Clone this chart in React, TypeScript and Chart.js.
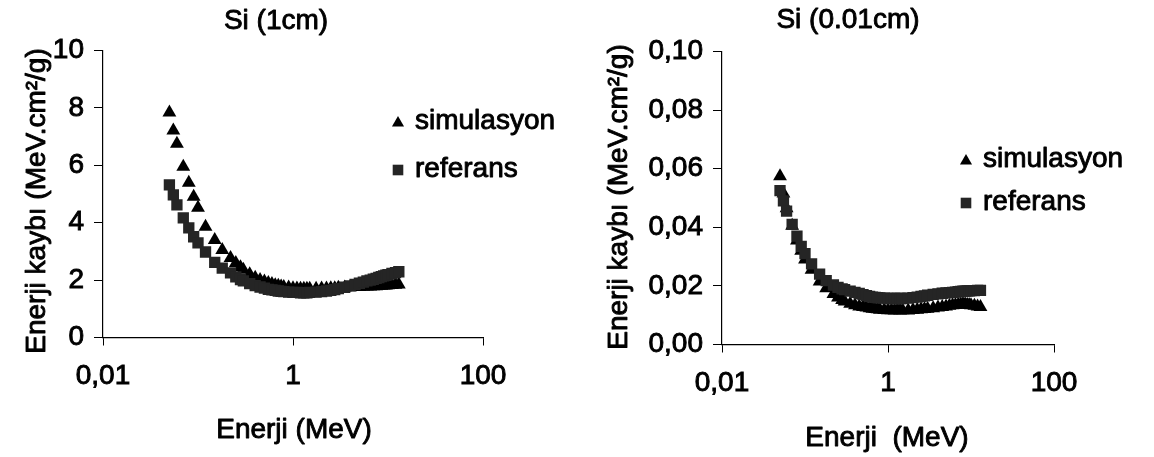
import React, { useEffect, useRef } from 'react';
import { Chart, registerables } from 'chart.js';

Chart.register(...registerables);

const FONT_FAMILY = '"Liberation Sans", Arial, Helvetica, sans-serif';

// Energies (MeV)
const energies = [
  0.05, 0.055, 0.06, 0.07, 0.08, 0.09, 0.1, 0.12, 0.15, 0.18,
  0.22, 0.25, 0.28, 0.3, 0.35, 0.4, 0.45, 0.5, 0.55, 0.6,
  0.65, 0.7, 0.75, 0.8, 0.9, 1.0, 1.1, 1.2, 1.3, 1.4,
  1.5, 1.75, 2.0, 2.25, 2.5, 2.75, 3.0, 3.5, 4.0, 4.5,
  5.0, 5.5, 6.0, 6.5, 7.0, 7.5, 8.0, 8.5, 9.0, 9.5,
  10, 11, 12, 13,
];

// Si (1cm)
const simThick = [
  7.84, 7.21, 6.75, 5.95, 5.39, 4.90, 4.52, 3.86, 3.40, 3.05,
  2.77, 2.60, 2.45, 2.36, 2.20, 2.08, 2.00, 1.95, 1.90, 1.86,
  1.82, 1.80, 1.78, 1.76, 1.74, 1.72, 1.71, 1.70, 1.70, 1.70,
  1.70, 1.70, 1.71, 1.71, 1.72, 1.72, 1.73, 1.74, 1.75, 1.76,
  1.76, 1.77, 1.78, 1.78, 1.79, 1.79, 1.80, 1.80, 1.81, 1.81,
  1.82, 1.83, 1.84, 1.85,
];
const refThick = [
  5.32, 4.97, 4.62, 4.17, 3.82, 3.51, 3.30, 2.98, 2.62, 2.42,
  2.25, 2.11, 2.02, 1.97, 1.88, 1.81, 1.76, 1.72, 1.68, 1.66,
  1.64, 1.62, 1.61, 1.60, 1.58, 1.57, 1.57, 1.56, 1.56, 1.56,
  1.57, 1.58, 1.60, 1.62, 1.64, 1.67, 1.70, 1.75, 1.80, 1.85,
  1.89, 1.93, 1.97, 2.00, 2.03, 2.06, 2.09, 2.12, 2.15, 2.17,
  2.19, 2.23, 2.26, 2.29,
];

// Si (0.01cm)
const simThin = [
  0.0574, 0.0515, 0.0465, 0.0405, 0.0355, 0.0320, 0.0290, 0.0255, 0.0215, 0.0192,
  0.0172, 0.0160, 0.0152, 0.0147, 0.0139, 0.0134, 0.0130, 0.0128, 0.0126, 0.0124,
  0.0122, 0.0121, 0.0120, 0.0119, 0.0118, 0.0117, 0.0117, 0.0116, 0.0118, 0.0116,
  0.0117, 0.0116, 0.0118, 0.0119, 0.0120, 0.0121, 0.0122, 0.0124, 0.0126, 0.0128,
  0.0130, 0.0132, 0.0134, 0.0135, 0.0136, 0.0137, 0.0138, 0.0137, 0.0136, 0.0135,
  0.0134, 0.0132, 0.0130, 0.0128,
];
const refThin = [
  0.0525, 0.0490, 0.0455, 0.0410, 0.0370, 0.0335, 0.0310, 0.0275, 0.0240, 0.0218,
  0.0203, 0.0195, 0.0190, 0.0187, 0.0182, 0.0178, 0.0174, 0.0170, 0.0167, 0.0164,
  0.0162, 0.0161, 0.0160, 0.0159, 0.0158, 0.0157, 0.0157, 0.0157, 0.0157, 0.0157,
  0.0157, 0.0158, 0.0160, 0.0162, 0.0164, 0.0166, 0.0168, 0.0171, 0.0173, 0.0175,
  0.0176, 0.0177, 0.0178, 0.0179, 0.0180, 0.0181, 0.0182, 0.0182, 0.0183, 0.0183,
  0.0184, 0.0184, 0.0185, 0.0185,
];

const seriesNames = ['simulasyon', 'referans'];
const xTickValues = [0.01, 1, 100];
const xTickLabels = ['0,01', '1', '100'];
const yTickValuesThick = [0, 2, 4, 6, 8, 10];
const yTickLabelsThick = ['0', '2', '4', '6', '8', '10'];
const yTickValuesThin = [0, 0.02, 0.04, 0.06, 0.08, 0.1];
const yTickLabelsThin = ['0,00', '0,02', '0,04', '0,06', '0,08', '0,10'];
const yAxisTitle = 'Enerji kaybı (MeV.cm²/g)';

const TRI_R = 8;
const RECT_R = 8;
const TEXT_STROKE = 0.9;

const figureText = {
  id: 'figureText',
  afterDraw(chart: any, _args: any, opts: any) {
    const ctx = chart.ctx;
    (opts.texts || []).forEach((t: any) => {
      ctx.save();
      ctx.font = `${t.size}px ${FONT_FAMILY}`;
      ctx.fillStyle = '#000';
      ctx.strokeStyle = '#000';
      ctx.lineWidth = TEXT_STROKE;
      ctx.lineJoin = 'round';
      ctx.textAlign = t.align || 'center';
      ctx.textBaseline = 'middle';
      ctx.translate(t.x, t.y);
      if (t.rotate) ctx.rotate(t.rotate);
      ctx.strokeText(t.text, 0, 0);
      ctx.fillText(t.text, 0, 0);
      ctx.restore();
    });
    (opts.markers || []).forEach((m: any) => {
      ctx.save();
      ctx.fillStyle = m.color;
      ctx.beginPath();
      const r = m.r;
      if (m.style === 'triangle') {
        ctx.moveTo(m.x, m.y - r);
        ctx.lineTo(m.x + 0.866 * r, m.y + 0.5 * r);
        ctx.lineTo(m.x - 0.866 * r, m.y + 0.5 * r);
        ctx.closePath();
      } else {
        const s = r * Math.SQRT1_2;
        ctx.rect(m.x - s, m.y - s, 2 * s, 2 * s);
      }
      ctx.fill();
      ctx.restore();
    });
  },
};

type PanelProps = {
  left: number;
  sim: number[];
  refv: number[];
  yMax: number;
  yTickValues: number[];
  yTickLabels: string[];
  padTop: number;
  padRight: number;
  yWidth: number;
  xHeight: number;
  texts: any[];
  markers: any[];
};

function Panel(p: PanelProps) {
  const canvasRef = useRef<HTMLCanvasElement | null>(null);
  useEffect(() => {
    if (!canvasRef.current) return;
    const tickFont = { family: FONT_FAMILY, size: 28 };
    const chart = new Chart(canvasRef.current, {
      type: 'scatter',
      data: {
        datasets: [
          {
            label: seriesNames[0],
            data: energies.map((e, i) => ({ x: e, y: p.sim[i] })),
            pointStyle: 'triangle',
            pointRadius: TRI_R,
            backgroundColor: '#000',
            borderColor: '#000',
            borderWidth: 0,
            order: 1,
          },
          {
            label: seriesNames[1],
            data: energies.map((e, i) => ({ x: e, y: p.refv[i] })),
            pointStyle: 'rect',
            pointRadius: RECT_R,
            backgroundColor: '#252525',
            borderColor: '#252525',
            borderWidth: 0,
            order: 0,
          },
        ],
      },
      options: {
        animation: false,
        responsive: true,
        maintainAspectRatio: false,
        events: [],
        layout: { padding: { top: p.padTop, right: p.padRight, bottom: 0, left: 0 } },
        plugins: {
          legend: { display: false },
          title: { display: false },
          tooltip: { enabled: false },
          figureText: { texts: p.texts, markers: p.markers },
        } as any,
        scales: {
          x: {
            type: 'logarithmic',
            position: 'bottom',
            min: 0.01,
            max: 100,
            afterBuildTicks: (s: any) => {
              s.ticks = xTickValues.map((v) => ({ value: v }));
            },
            afterFit: (s: any) => {
              s.height = p.xHeight;
            },
            ticks: {
              autoSkip: false,
              maxRotation: 0,
              color: '#000',
              font: tickFont,
              padding: 14,
              textStrokeColor: '#000',
              textStrokeWidth: TEXT_STROKE,
              callback: (_v: any, i: number) => xTickLabels[i],
            },
            grid: { drawOnChartArea: false, drawTicks: true, tickLength: 8, color: '#000', lineWidth: 1 },
            border: { display: true, color: '#000', width: 1.2 },
          },
          y: {
            type: 'linear',
            min: 0,
            max: p.yMax,
            afterBuildTicks: (s: any) => {
              s.ticks = p.yTickValues.map((v) => ({ value: v }));
            },
            afterFit: (s: any) => {
              s.width = p.yWidth;
            },
            ticks: {
              color: '#000',
              font: tickFont,
              padding: 10,
              textStrokeColor: '#000',
              textStrokeWidth: TEXT_STROKE,
              callback: (_v: any, i: number) => p.yTickLabels[i],
            },
            grid: { drawOnChartArea: false, drawTicks: true, tickLength: 9, color: '#000', lineWidth: 1 },
            border: { display: true, color: '#000', width: 1.2 },
          },
        } as any,
      },
      plugins: [figureText as any],
    } as any);
    return () => chart.destroy();
  }, []);
  return (
    <div style={{ position: 'absolute', left: p.left, top: 0, width: 577, height: 457 }}>
      <canvas ref={canvasRef} />
    </div>
  );
}

export default function App() {
  return (
    <div style={{ position: 'absolute', left: 0, top: 0, width: 1154, height: 457, background: '#fff' }}>
      <Panel
        left={0}
        sim={simThick}
        refv={refThick}
        yMax={10}
        yTickValues={yTickValuesThick}
        yTickLabels={yTickLabelsThick}
        padTop={50.5}
        padRight={94}
        yWidth={103}
        xHeight={119.5}
        texts={[
          { text: 'Si (1cm)', x: 276, y: 21, size: 28 },
          { text: yAxisTitle, x: 37, y: 201, size: 28, rotate: -Math.PI / 2 },
          { text: 'Enerji (MeV)', x: 294, y: 430, size: 28 },
          { text: seriesNames[0], x: 415, y: 121, size: 28, align: 'left' },
          { text: seriesNames[1], x: 415, y: 169, size: 28, align: 'left' },
        ]}
        markers={[
          { style: 'triangle', x: 398, y: 123, r: 7, color: '#000' },
          { style: 'rect', x: 398, y: 170, r: 7.5, color: '#252525' },
        ]}
      />
      <Panel
        left={577}
        sim={simThin}
        refv={refThin}
        yMax={0.1}
        yTickValues={yTickValuesThin}
        yTickLabels={yTickLabelsThin}
        padTop={51.5}
        padRight={100}
        yWidth={145}
        xHeight={112.5}
        texts={[
          { text: 'Si (0.01cm)', x: 271, y: 20, size: 28 },
          { text: yAxisTitle, x: 42, y: 197, size: 28, rotate: -Math.PI / 2 },
          { text: 'Enerji  (MeV)', x: 310, y: 438, size: 28 },
          { text: seriesNames[0], x: 406, y: 159, size: 28, align: 'left' },
          { text: seriesNames[1], x: 406, y: 202, size: 28, align: 'left' },
        ]}
        markers={[
          { style: 'triangle', x: 389, y: 161, r: 7, color: '#000' },
          { style: 'rect', x: 389, y: 203, r: 7.5, color: '#252525' },
        ]}
      />
    </div>
  );
}
